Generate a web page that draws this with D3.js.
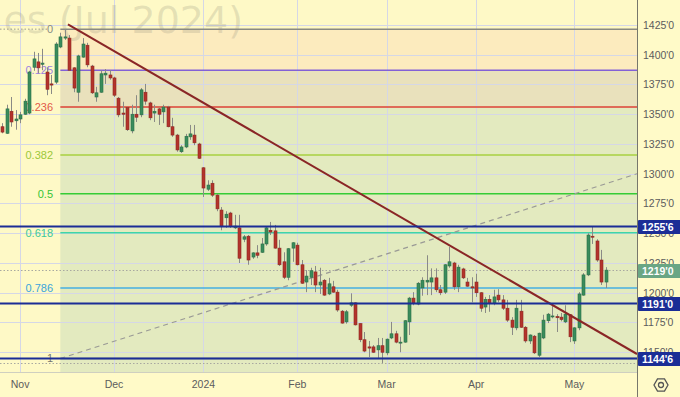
<!DOCTYPE html>
<html>
<head>
<meta charset="utf-8">
<script src="https://cdn.jsdelivr.net/npm/d3@7"></script>
<style>
html, body { margin: 0; padding: 0; background: #fffac8; }
svg { display: block; font-family: "Liberation Sans", Arial, sans-serif; }
</style>
</head>
<body>
<svg id="chart" width="680" height="397"></svg>
<script>
// daily bars [open, high, low, close]
const candles = [
  [1339.5,1342.5,1334,1335],[1334,1358,1333.5,1354.5],[1352.5,1364.5,1339.5,1343.5],[1344.5,1353.5,1337,1346],
  [1346,1352,1342.5,1349.5],[1350,1363,1349.5,1361],[1351,1386.5,1350,1385.5],[1389.5,1402.5,1386.5,1396.5],
  [1394,1401.5,1384.5,1389],[1392,1405,1387,1393],[1385.5,1389.5,1366,1371],[1375.5,1383,1367,1374.5],
  [1377,1410.5,1375.5,1409],[1406.5,1418.5,1405.5,1415],[1414,1421.5,1412.5,1415],[1414,1416.5,1386.5,1387],
  [1389,1389.5,1368.5,1372],[1368.5,1400,1360.5,1399],[1398,1414,1397.5,1409],[1408,1410,1389.5,1391.5],
  [1390.5,1391.5,1367,1368],[1364.5,1373,1360.5,1368],[1368.5,1387,1368,1384],[1383,1388,1375.5,1384.5],
  [1383,1387,1379,1380.5],[1380.5,1381.5,1364.5,1366],[1363.5,1364.5,1347.5,1349.5],[1351,1360.5,1339.5,1350],
  [1355.5,1356,1336,1337],[1336,1358,1334,1350],[1350,1366,1343.5,1347.5],[1349.5,1372,1347.5,1370.5],
  [1368.5,1375.5,1358,1361],[1359.5,1360.5,1345,1347],[1351,1358,1343.5,1352.5],[1354.5,1355.5,1341,1350],
  [1352,1358,1342.5,1356],[1356,1357,1339,1339.5],[1339.5,1347,1331,1332.5],[1332.5,1333.5,1318.5,1320],
  [1318.5,1324,1317.5,1322.5],[1322.5,1333.5,1321.5,1331.5],[1331,1341,1328.5,1333.5],[1332.5,1341,1324,1326],
  [1325,1326,1312.5,1313],[1305,1305.5,1280.5,1288],[1287,1294.5,1285.5,1290.5],[1292,1294.5,1280.5,1282],
  [1282,1283,1268.5,1270.5],[1269.5,1272,1252.5,1256],[1263,1268.5,1254.5,1266],[1267,1268,1254.5,1255.5],
  [1254.5,1265.5,1253.5,1256],[1254.5,1265.5,1225,1229],[1245,1248.5,1242.5,1247],[1247.5,1248.5,1223.5,1227.5],
  [1230,1234,1228.5,1233.5],[1233.5,1240,1229,1231.5],[1234,1246,1233.5,1241],[1241,1255.5,1239.5,1254.5],
  [1252.5,1259.5,1248.5,1251],[1252,1257,1237,1237.5],[1237.5,1244.5,1222.5,1223.5],[1226,1234,1211.5,1213],
  [1213,1237.5,1210.5,1237],[1237.5,1242.5,1226,1242],[1240,1242,1223,1223.5],[1223.5,1227.5,1207.5,1208],
  [1209,1219,1200.5,1214],[1213,1221,1206.5,1218.5],[1217.5,1222.5,1200.5,1206.5],[1206.5,1221,1199,1209],
  [1210.5,1211.5,1197.5,1198],[1199,1212.5,1198,1207.5],[1205,1210,1200,1200.5],[1200.5,1202.5,1184,1185.5],
  [1184.5,1185.5,1174,1174.5],[1175.5,1185.5,1174,1184],[1189.5,1199.5,1188,1191.5],[1191.5,1192,1172.5,1173],
  [1174,1174.5,1158.5,1160.5],[1160.5,1167,1150,1151],[1154.5,1159.5,1146,1153.5],[1154.5,1156,1149.5,1150],
  [1152,1162,1145,1155.5],[1155.5,1162,1141,1150],[1149.5,1161.5,1147.5,1161],[1162,1175.5,1161,1165.5],
  [1165.5,1168,1157.5,1158.5],[1158,1163,1150,1158.5],[1158.5,1177,1158,1176.5],[1175.5,1196.5,1164.5,1195.5],
  [1195.5,1200.5,1189.5,1191.5],[1190.5,1209,1189.5,1208],[1204,1213,1197.5,1210.5],[1209,1231.5,1198,1210.5],
  [1209,1220.5,1198,1212.5],[1212.5,1220.5,1200.5,1202.5],[1202.5,1206.5,1198,1200],[1200.5,1224,1199,1223.5],
  [1222.5,1238.5,1221,1226],[1225,1226,1202.5,1205],[1205,1223.5,1200.5,1221.5],[1220,1221,1211.5,1212.5],
  [1209,1212.5,1205,1205.5],[1205,1213,1192,1204],[1209,1216,1196.5,1200],[1200,1200.5,1184,1187],
  [1188,1196.5,1183,1194.5],[1194.5,1198,1184,1191.5],[1191.5,1202.5,1189.5,1196.5],[1198,1203,1192,1194],
  [1194,1198,1185.5,1187],[1187,1194,1175.5,1177],[1177,1179.5,1164.5,1171],[1170.5,1194,1168.5,1187],
  [1184.5,1194,1170.5,1171],[1171,1172,1158,1159.5],[1159.5,1165,1157,1164.5],[1163.5,1164.5,1148.5,1149.5],
  [1147.5,1166.5,1146,1166],[1162,1181.5,1161,1177],[1176.5,1183,1174.5,1182],[1180,1190,1178.5,1180.5],
  [1180,1182,1167,1179],[1179.5,1183,1176,1177.5],[1175.5,1189.5,1174.5,1182],[1181.5,1182,1158.5,1163],
  [1159.5,1171,1157,1170.5],[1170.5,1200.5,1168.5,1199],[1198,1216.5,1197.5,1215],[1215,1250,1214,1248.5],
  [1247.5,1255.75,1241,1247],[1243.5,1245,1226,1227.5],[1227.5,1236,1206.5,1209],[1209,1221.5,1204,1219]
];
const startDate = '2023-10-26';
const holidays = ['2023-11-23', '2023-12-25', '2024-01-01', '2024-01-15', '2024-02-19', '2024-03-29'];
const yTicks = d3.range(1150, 1426, 25);
const fibRatios = [0, 0.125, 0.236, 0.382, 0.5, 0.618, 0.786, 1];
const fibHigh = 1421.5, fibLow = 1144.75, fibStartBar = 13;
const levels = [1255.75, 1191, 1144.75];
const lastPrice = 1219;
const lowMark = 1141;
const trendLine = [[14.7, 1425.6], [142, 1148.5]];
const channelLine = [[13, 1144.75], [142, 1300]];
const title = 'es (Jul 2024)';

const plotR = 637, plotB = 372;
const svg = d3.select('#chart');
const x = d3.scaleLinear().domain([-0.5, 142]).range([0, plotR]);
const y = d3.scaleLinear().domain([1133.4, 1446]).range([plotB, 0]);
const fibY = r => y(fibHigh - r * (fibHigh - fibLow));
const fmt = v => { let w = Math.floor(v); return `${w}'${Math.round((v - w) * 8)}`; };

const fibStyle = {
  0: { line: '#8a8a82', text: '#8a8a82' },
  0.125: { line: '#8260d6', text: '#9a82e0' },
  0.236: { line: '#df6a58', text: '#e35a48' },
  0.382: { line: '#a8d040', text: '#9cc83a' },
  0.5: { line: '#35cc35', text: '#35c435' },
  0.618: { line: '#3fd6a6', text: '#3cc89a' },
  0.786: { line: '#45afe2', text: '#3aa4dc' },
  1: { line: '#8a8a82', text: '#77776f' }
};
const bandFill = ['#fcebbe', '#e9e1bc', '#e3eabf', '#e3eabf', '#e3eabf', '#e3eabf', '#e3eabf'];

// trading days
const holidaySet = new Set(holidays);
const iso = d3.timeFormat('%Y-%m-%d');
const dates = [];
for (let d = new Date(startDate + 'T12:00:00'); dates.length < candles.length; d.setDate(d.getDate() + 1)) {
  if (d.getDay() > 0 && d.getDay() < 6 && !holidaySet.has(iso(d))) dates.push(new Date(d));
}
const monthTicks = dates.map((d, i) => ({ d, i }))
  .filter(t => t.i > 0 && t.d.getMonth() !== dates[t.i - 1].getMonth());

svg.append('defs').append('clipPath').attr('id', 'plot')
  .append('rect').attr('width', plotR).attr('height', plotB);

svg.append('rect').attr('width', 680).attr('height', 397).attr('fill', '#fffac8');
const plot = svg.append('g').attr('clip-path', 'url(#plot)');
plot.append('rect').attr('width', plotR).attr('height', plotB).attr('fill', '#fef9c6');

// fib bands
const x0 = x(fibStartBar);
plot.selectAll('.band').data(d3.pairs(fibRatios)).join('rect')
  .attr('x', x0).attr('width', plotR - x0)
  .attr('y', d => fibY(d[0]))
  .attr('height', (d, i) => (i === fibRatios.length - 2 ? plotB : fibY(d[1])) - fibY(d[0]))
  .attr('fill', (d, i) => bandFill[i]);

// grid
plot.selectAll('.hg').data(yTicks).join('line')
  .attr('x1', 0).attr('x2', plotR)
  .attr('y1', d => Math.round(y(d)) + 0.5).attr('y2', d => Math.round(y(d)) + 0.5)
  .attr('stroke', '#d5d7e6').attr('stroke-width', 1);
plot.selectAll('.vg').data(monthTicks).join('line')
  .attr('x1', d => Math.round(x(d.i)) + 0.5).attr('x2', d => Math.round(x(d.i)) + 0.5)
  .attr('y1', 0).attr('y2', plotB)
  .attr('stroke', '#d5d7e6').attr('stroke-width', 1);

// watermark
plot.append('text').attr('x', 243).attr('y', 33).attr('text-anchor', 'end')
  .style('font-family', '"DejaVu Sans", sans-serif').style('font-size', '38px')
  .attr('fill', '#8a8778').attr('fill-opacity', 0.22).text(title);

// fib lines and labels
plot.append('line').attr('x1', 0).attr('x2', 47).attr('y1', fibY(0)).attr('y2', fibY(0))
  .attr('stroke', '#9a9a90').attr('stroke-dasharray', '1.5,2');
plot.selectAll('.fib').data(fibRatios).join('line')
  .attr('x1', x0).attr('x2', plotR).attr('y1', d => fibY(d)).attr('y2', d => fibY(d))
  .attr('stroke', d => fibStyle[d].line).attr('stroke-width', d => d === 0.236 ? 2 : 1.5);
plot.selectAll('.fibl').data(fibRatios).join('text')
  .attr('x', 53).attr('y', d => fibY(d)).attr('dy', '0.36em').attr('text-anchor', 'end')
  .style('font-size', '11px').attr('fill', d => fibStyle[d].text).text(d => String(d));

// dotted price markers
plot.selectAll('.dot').data([lastPrice, lowMark]).join('line')
  .attr('x1', 0).attr('x2', plotR).attr('y1', d => Math.round(y(d)) + 0.5).attr('y2', d => Math.round(y(d)) + 0.5)
  .attr('stroke', '#a8a8a0').attr('stroke-dasharray', '1.5,2');

// dashed channel line
plot.append('line')
  .attr('x1', x(channelLine[0][0])).attr('y1', y(channelLine[0][1]))
  .attr('x2', x(channelLine[1][0])).attr('y2', y(channelLine[1][1]))
  .attr('stroke', '#9a9a96').attr('stroke-width', 1.2).attr('stroke-dasharray', '5,4');

// candles
const bars = plot.selectAll('.bar').data(candles).join('g');
bars.append('line')
  .attr('x1', (d, i) => Math.round(x(i)) + 0.5).attr('x2', (d, i) => Math.round(x(i)) + 0.5)
  .attr('y1', d => y(d[1])).attr('y2', d => y(d[2]))
  .attr('stroke', '#8a8a86').attr('stroke-width', 1);
bars.append('rect')
  .attr('x', (d, i) => Math.round(x(i)) - 1)
  .attr('width', 3)
  .attr('y', d => y(Math.max(d[0], d[3])))
  .attr('height', d => Math.max(1, Math.abs(y(d[0]) - y(d[3]))))
  .attr('fill', d => d[3] >= d[0] ? '#3a8c5c' : '#b4332b')
  .attr('stroke', d => d[3] >= d[0] ? '#2b6e46' : '#8c2822').attr('stroke-width', 0.6);

// trend line
plot.append('line')
  .attr('x1', x(trendLine[0][0])).attr('y1', y(trendLine[0][1]))
  .attr('x2', x(trendLine[1][0])).attr('y2', y(trendLine[1][1]))
  .attr('stroke', '#8a2626').attr('stroke-width', 2);

// support / resistance levels
plot.selectAll('.lvl').data(levels).join('line')
  .attr('x1', 0).attr('x2', plotR).attr('y1', d => y(d)).attr('y2', d => y(d))
  .attr('stroke', '#1b2d96').attr('stroke-width', 2);

// axes frame
svg.append('line').attr('x1', plotR + 0.5).attr('x2', plotR + 0.5).attr('y1', 0).attr('y2', 397)
  .attr('stroke', '#77776c');
svg.append('line').attr('x1', 0).attr('x2', plotR).attr('y1', plotB + 0.5).attr('y2', plotB + 0.5)
  .attr('stroke', '#cfcfc0');

// right axis ticks
svg.selectAll('.yt').data(yTicks).join('text')
  .attr('x', 643).attr('y', d => y(d)).attr('dy', '0.36em')
  .style('font-size', '10.5px').attr('fill', '#5c5c5c').text(d => `${d}'0`);

// bottom axis ticks
const monthFmt = d3.timeFormat('%b');
svg.selectAll('.xt').data(monthTicks).join('text')
  .attr('x', d => x(d.i)).attr('y', 388).attr('text-anchor', 'middle')
  .style('font-size', '10.5px').attr('fill', '#5c5c5c')
  .text(d => d.d.getMonth() === 0 ? d.d.getFullYear() : monthFmt(d.d));

// price boxes
const boxes = levels.map(v => ({ v, c: '#1b2d96' })).concat([{ v: lastPrice, c: '#6aa684' }]);
const bx = svg.selectAll('.box').data(boxes).join('g')
  .attr('transform', d => `translate(${plotR + 1},${Math.round(y(d.v)) + 1})`);
bx.append('rect').attr('x', 0).attr('y', -7).attr('width', 43).attr('height', 14)
  .attr('rx', 1).attr('fill', d => d.c);
bx.append('text').attr('x', 4).attr('dy', '0.36em')
  .style('font-size', '10.5px').style('font-weight', 'bold').attr('fill', '#fff')
  .text(d => fmt(d.v));

// settings icon
const gear = svg.append('g').attr('transform', 'translate(661,385)');
gear.append('path')
  .attr('d', d3.line()(d3.range(6).map(k => [7 * Math.cos(k * Math.PI / 3), 7 * Math.sin(k * Math.PI / 3)])) + 'Z')
  .attr('fill', 'none').attr('stroke', '#555').attr('stroke-width', 1.3);
gear.append('circle').attr('r', 2.5).attr('fill', 'none').attr('stroke', '#555').attr('stroke-width', 1.3);
</script>
</body>
</html>
